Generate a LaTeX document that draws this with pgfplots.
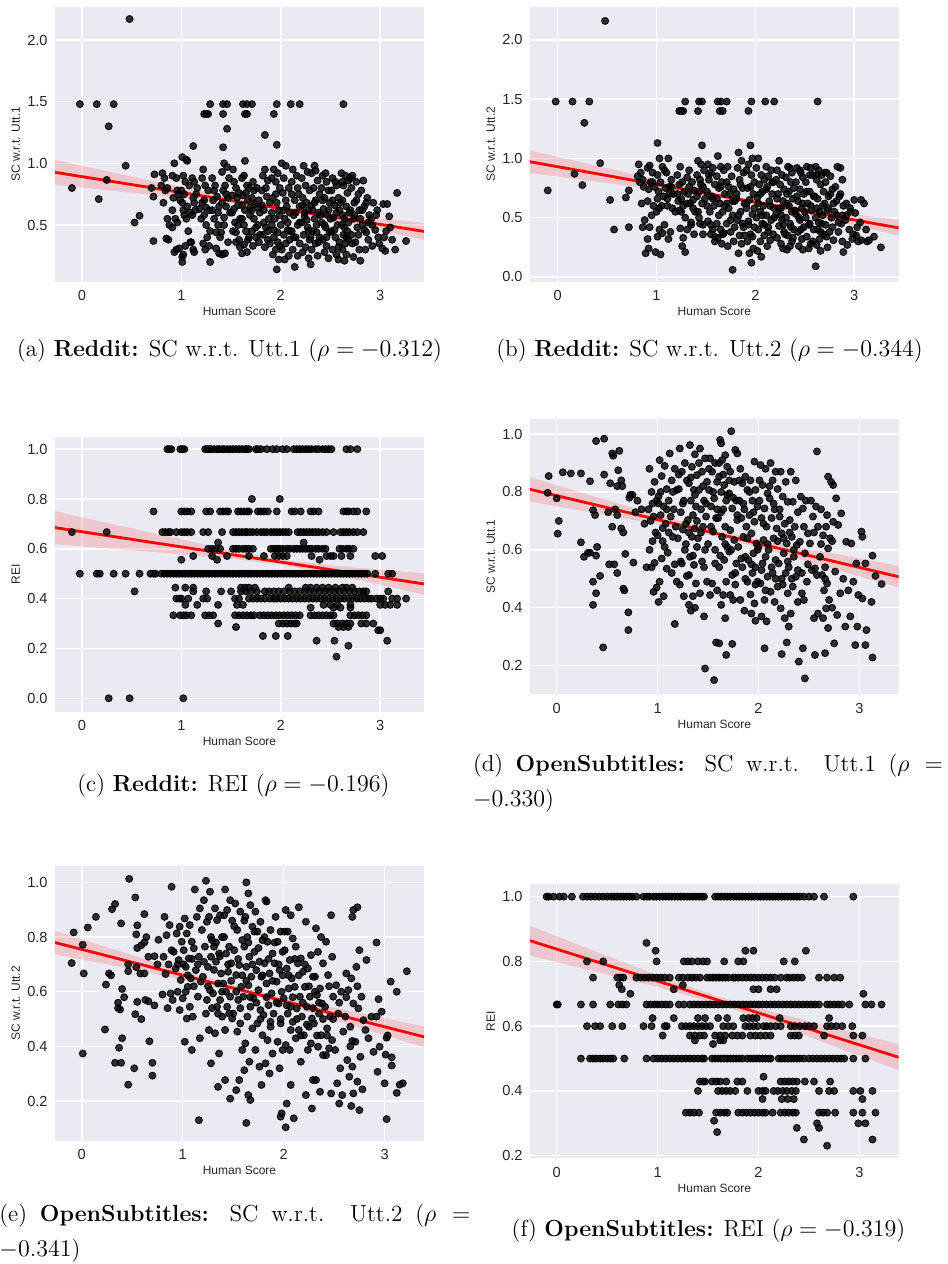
\documentclass[border=0pt]{standalone}
\usepackage{fontspec}
\usepackage{pgfplots}
\pgfplotsset{compat=1.18}
\newfontfamily\arial{Liberation Sans}
\definecolor{sbbg}{HTML}{EAEAF2}
\definecolor{sbtext}{HTML}{262626}
\newcommand\capfont{\fontsize{11.6}{14}\selectfont}
\pgfplotsset{
  % seaborn darkgrid look
  sb/.style={
    scale only axis, width=184.5pt, height=137.5pt, anchor=south west,
    axis background/.style={fill=sbbg},
    axis line style={draw=none},
    grid=major, grid style={white, line width=0.75pt},
    major tick length=0pt, tick style={draw=none},
    xtick={0,1,2,3},
    /pgf/number format/assume math mode=true,
    ticklabel style={font=\arial\fontsize{7.3}{8}\selectfont, text=sbtext, inner sep=0pt},
    xticklabel style={anchor=north, yshift=-4.3pt},
    yticklabel style={anchor=east, xshift=-3.5pt, /pgf/number format/fixed,
      /pgf/number format/precision=1, /pgf/number format/fixed zerofill},
    xlabel={Human Score},
    every axis x label/.style={at={(rel axis cs:0.5,0)}, anchor=center, yshift=-15pt,
      font=\arial\fontsize{6}{7}\selectfont, text=sbtext},
    every axis y label/.style={at={(rel axis cs:0,0.5)}, xshift=-19.6pt, rotate=90,
      anchor=center, font=\arial\fontsize{6}{7}\selectfont, text=sbtext},
  },
  dots/.style={only marks, mark=*, mark size=1.75pt,
    mark options={draw=none, fill=black, fill opacity=0.8}},
  band/.style={draw=none, fill=red, fill opacity=0.15},
  fitline/.style={red, line width=1.4pt, no marks},
}
\begin{document}
\begin{tikzpicture}
\useasboundingbox (0,0) rectangle (474pt,-632pt);

% ---- (a) Reddit, SC w.r.t. Utt.1 ----
\begin{axis}[sb, at={(27.5pt,-140.85pt)},
  xmin=-0.27, xmax=3.44, ymin=0.04, ymax=2.27, ytick={0.5,1.0,1.5,2.0},
  ylabel={SC w.r.t. Utt.1}]
\addplot[dots] coordinates {
(0.48,2.17) (-0.02,1.48) (0.15,1.48) (0.32,1.48) (1.29,1.48) (1.42,1.48) (1.46,1.48) (1.62,1.48) (1.66,1.48) (1.71,1.48) (1.96,1.48) (2.10,1.48) (2.19,1.48) (2.63,1.48)
(1.23,1.40) (1.25,1.40) (1.27,1.40) (1.42,1.40) (1.64,1.40) (1.66,1.40) (1.93,1.40)
(0.27,1.30) (1.46,1.28) (1.84,1.23) (1.12,1.14) (1.42,1.13) (1.96,1.15) (1.64,1.02)
(0.44,0.98) (-0.10,0.80) (0.25,0.865) (0.17,0.71) (0.53,0.52) (0.58,0.575) (0.72,0.37) (0.72,0.73) (0.73,0.91) (0.70,0.80)
(0.81,0.92) (0.83,0.88) (0.80,0.82) (0.86,0.80) (0.84,0.78) (0.82,0.68) (0.86,0.55) (0.88,0.50) (0.85,0.39) (0.87,0.38)
(0.93,1.00) (0.91,0.90) (0.95,0.88) (0.97,0.75) (0.92,0.72) (0.99,0.70) (0.94,0.55) (0.96,0.52) (0.91,0.48) (0.95,0.30) (0.93,0.28) (0.98,0.31)
(1.01,1.05) (1.05,1.03) (1.06,1.02) (1.02,0.90) (1.04,0.85) (1.08,0.82) (1.00,0.78) (1.03,0.75) (1.06,0.65) (1.02,0.62) (1.09,0.60) (1.05,0.55) (1.07,0.45) (1.04,0.33) (1.09,0.36) (1.02,0.26) (1.01,0.24) (1.01,0.20)
(1.11,0.88) (1.13,0.85) (1.16,0.80) (1.12,0.72) (1.18,0.63) (1.14,0.62) (1.10,0.36) (1.12,0.30) (1.13,0.28)
(1.22,0.95) (1.21,0.88) (1.24,0.82) (1.27,0.78) (1.23,0.70) (1.28,0.62) (1.20,0.55) (1.25,0.50) (1.29,0.45) (1.26,0.40) (1.22,0.35) (1.28,0.33) (1.24,0.30) (1.29,0.20)
(1.31,0.88) (1.34,0.82) (1.36,0.73) (1.32,0.70) (1.38,0.65) (1.33,0.55) (1.37,0.50) (1.39,0.40) (1.35,0.31) (1.38,0.27) (1.41,0.26)
(1.43,1.00) (1.46,0.97) (1.41,0.93) (1.48,0.88) (1.44,0.82) (1.42,0.78) (1.47,0.72) (1.45,0.65) (1.49,0.60) (1.43,0.56) (1.40,0.44) (1.44,0.27)
(1.52,0.95) (1.55,0.80) (1.58,0.76) (1.51,0.74) (1.56,0.72) (1.53,0.63) (1.59,0.55) (1.54,0.52) (1.57,0.50) (1.52,0.45) (1.58,0.38) (1.55,0.36)
(1.63,0.90) (1.61,0.88) (1.66,0.82) (1.68,0.80) (1.62,0.74) (1.67,0.70) (1.64,0.62) (1.69,0.58) (1.61,0.55) (1.65,0.45) (1.68,0.40) (1.63,0.34) (1.66,0.28) (1.61,0.27)
(1.72,0.85) (1.76,0.80) (1.71,0.72) (1.78,0.70) (1.74,0.67) (1.79,0.60) (1.73,0.55) (1.77,0.50) (1.71,0.45) (1.75,0.40) (1.78,0.36) (1.72,0.33)
(1.84,0.95) (1.82,0.90) (1.87,0.86) (1.81,0.78) (1.86,0.73) (1.89,0.68) (1.83,0.62) (1.88,0.55) (1.85,0.48) (1.82,0.42) (1.87,0.38) (1.84,0.32)
(1.93,0.95) (1.97,0.92) (1.91,0.88) (1.95,0.85) (1.99,0.80) (1.92,0.72) (1.96,0.68) (1.98,0.62) (1.94,0.55) (1.91,0.50) (1.97,0.44) (1.93,0.40) (1.99,0.33) (1.95,0.30) (1.92,0.26) (1.98,0.22) (1.96,0.14)
(2.01,1.00) (2.05,0.98) (2.03,0.88) (2.08,0.80) (2.02,0.76) (2.06,0.65) (2.09,0.60) (2.04,0.55) (2.00,0.50) (2.07,0.46) (2.03,0.42) (2.09,0.38) (2.05,0.35) (2.01,0.30) (2.08,0.25) (2.04,0.22)
(2.12,0.95) (2.16,0.90) (2.11,0.85) (2.18,0.75) (2.14,0.70) (2.19,0.65) (2.13,0.58) (2.17,0.50) (2.11,0.45) (2.15,0.40) (2.19,0.35) (2.12,0.30) (2.17,0.25) (2.14,0.16)
(2.23,0.98) (2.27,0.93) (2.21,0.88) (2.25,0.82) (2.29,0.78) (2.22,0.72) (2.26,0.68) (2.28,0.62) (2.24,0.57) (2.21,0.52) (2.27,0.48) (2.23,0.42) (2.29,0.38) (2.25,0.32) (2.22,0.28) (2.28,0.23)
(2.34,0.98) (2.31,0.92) (2.37,0.86) (2.33,0.80) (2.39,0.75) (2.35,0.70) (2.31,0.66) (2.38,0.60) (2.34,0.55) (2.36,0.50) (2.32,0.45) (2.39,0.40) (2.35,0.35) (2.31,0.30) (2.37,0.25) (2.30,0.18)
(2.42,0.90) (2.46,0.85) (2.41,0.80) (2.48,0.78) (2.44,0.72) (2.49,0.68) (2.43,0.63) (2.47,0.58) (2.41,0.52) (2.45,0.48) (2.49,0.44) (2.42,0.38) (2.46,0.33) (2.44,0.28) (2.48,0.23)
(2.52,0.88) (2.56,0.82) (2.51,0.78) (2.58,0.72) (2.54,0.66) (2.59,0.62) (2.53,0.56) (2.57,0.50) (2.51,0.45) (2.55,0.40) (2.59,0.36) (2.52,0.30) (2.56,0.26) (2.58,0.22)
(2.61,0.92) (2.65,0.90) (2.68,0.86) (2.63,0.82) (2.67,0.76) (2.62,0.70) (2.66,0.65) (2.69,0.60) (2.64,0.55) (2.61,0.50) (2.67,0.45) (2.63,0.42) (2.68,0.38) (2.65,0.35) (2.62,0.30) (2.66,0.26) (2.64,0.21)
(2.72,0.90) (2.76,0.85) (2.71,0.80) (2.78,0.75) (2.74,0.68) (2.79,0.62) (2.73,0.55) (2.77,0.48) (2.71,0.42) (2.75,0.36) (2.79,0.30) (2.73,0.24)
(2.83,0.86) (2.81,0.78) (2.87,0.72) (2.84,0.65) (2.89,0.58) (2.82,0.50) (2.86,0.44) (2.88,0.38) (2.85,0.30) (2.80,0.21)
(2.93,0.68) (2.97,0.62) (2.91,0.55) (2.95,0.46) (2.98,0.40) (2.92,0.33)
(3.03,0.67) (3.07,0.67) (3.09,0.57) (3.10,0.48) (3.04,0.40) (3.02,0.31) (3.05,0.29) (3.15,0.30) (3.17,0.76) (3.26,0.37)
(2.22,0.66) (2.24,0.60) (2.26,0.54) (2.28,0.45) (2.30,0.40) (2.32,0.62) (2.34,0.68) (2.36,0.44) (2.38,0.36) (2.40,0.58) (2.42,0.70) (2.44,0.50) (2.46,0.40) (2.48,0.62) (2.50,0.55) (2.52,0.70) (2.54,0.46) (2.56,0.60) (2.58,0.32) (2.60,0.68) (2.62,0.58) (2.64,0.48) (2.66,0.40) (2.68,0.52) (2.70,0.62) (2.72,0.35) (2.74,0.58) (2.76,0.70) (2.78,0.42) (2.80,0.55) (2.82,0.62) (2.84,0.46) (2.86,0.68) (2.88,0.52)
(2.03,0.62) (2.05,0.70) (2.07,0.52) (2.09,0.45) (2.11,0.75) (2.13,0.40) (2.15,0.60) (2.17,0.80) (2.19,0.52) (1.91,0.60) (1.93,0.46) (1.95,0.75) (1.97,0.36) (1.99,0.58) (1.81,0.66) (1.83,0.52) (1.85,0.80) (1.87,0.45) (1.89,0.35)
(1.71,0.62) (1.73,0.78) (1.75,0.48) (1.77,0.64) (1.79,0.42) (1.61,0.66) (1.63,0.50) (1.65,0.76) (1.67,0.38) (1.69,0.64) (1.51,0.60) (1.53,0.85) (1.55,0.44) (1.57,0.66) (1.59,0.32) (1.41,0.68) (1.43,0.50) (1.45,0.75) (1.47,0.36)
(1.31,0.62) (1.33,0.78) (1.35,0.44) (1.37,0.60) (1.21,0.68) (1.23,0.58) (1.25,0.64) (1.11,0.58) (1.13,0.68) (1.15,0.75) (1.01,0.68) (1.03,0.58) (0.91,0.62) (0.96,0.78)
(2.92,0.50) (2.96,0.58) (2.99,0.35) (3.06,0.45) (3.12,0.38) (2.62,0.85) (2.70,0.88) (2.45,0.92) (2.55,0.85) (2.35,0.94)
};
\addplot[band] coordinates {(-0.27,1.027) (0.3,0.928) (0.9,0.825) (1.5,0.723) (1.95,0.654) (2.5,0.598) (3.0,0.554) (3.44,0.516)
 (3.44,0.380) (3.0,0.456) (2.5,0.542) (1.95,0.626) (1.5,0.674) (0.9,0.727) (0.3,0.778) (-0.27,0.827)} -- cycle;
\addplot[fitline] coordinates {(-0.27,0.927) (3.44,0.448)};
\end{axis}

% ---- (b) Reddit, SC w.r.t. Utt.2 ----
\begin{axis}[sb, at={(265pt,-140.85pt)}, width=184.35pt,
  xmin=-0.28, xmax=3.45, ymin=-0.04, ymax=2.28, ytick={0,0.5,1.0,1.5,2.0},
  ylabel={SC w.r.t. Utt.2}]
\addplot[dots] coordinates {
(0.48,2.16) (-0.02,1.48) (0.15,1.48) (0.32,1.48) (1.29,1.48) (1.43,1.48) (1.46,1.48) (1.62,1.48) (1.65,1.48) (1.71,1.48) (1.96,1.48) (2.10,1.48) (2.19,1.48) (2.63,1.48)
(1.23,1.40) (1.25,1.40) (1.27,1.40) (1.42,1.40) (1.64,1.40) (1.67,1.40) (1.93,1.40)
(0.27,1.30) (0.43,0.96) (-0.10,0.73) (0.17,0.87) (0.25,0.775) (0.53,0.65) (0.57,0.40) (0.72,0.42) (0.69,0.67) (0.72,0.73) (1.01,1.13) (1.46,1.11) (1.95,1.11) (1.77,0.06) (2.61,0.09) (1.96,0.12) (3.27,0.25)
(0.82,0.95) (0.84,0.88) (0.81,0.85) (0.86,0.82) (0.83,0.80) (0.87,0.76) (0.85,0.62) (0.88,0.48) (0.86,0.42) (0.89,0.20)
(0.93,0.94) (0.91,0.92) (0.96,0.88) (0.94,0.80) (0.98,0.76) (0.92,0.74) (0.97,0.60) (0.95,0.52) (0.93,0.42) (0.91,0.32) (0.92,0.24) (0.99,0.21)
(1.03,1.00) (1.06,0.93) (1.08,0.90) (1.01,0.86) (1.04,0.80) (1.09,0.75) (1.02,0.72) (1.07,0.68) (1.05,0.60) (1.00,0.55) (1.08,0.44) (1.03,0.40) (1.06,0.37) (1.01,0.34) (1.04,0.19)
(1.12,1.00) (1.10,0.88) (1.15,0.82) (1.13,0.76) (1.17,0.70) (1.11,0.66) (1.16,0.58) (1.19,0.55) (1.14,0.38) (1.12,0.32)
(1.24,0.93) (1.21,0.86) (1.26,0.80) (1.23,0.78) (1.28,0.72) (1.22,0.64) (1.27,0.60) (1.25,0.55) (1.29,0.50) (1.24,0.41) (1.27,0.33) (1.26,0.26) (1.29,0.21)
(1.33,0.90) (1.31,0.84) (1.36,0.80) (1.38,0.73) (1.32,0.70) (1.37,0.65) (1.34,0.62) (1.39,0.55) (1.35,0.44) (1.31,0.40) (1.38,0.36)
(1.42,0.98) (1.45,0.95) (1.48,0.90) (1.41,0.86) (1.44,0.82) (1.47,0.76) (1.43,0.72) (1.49,0.66) (1.46,0.62) (1.42,0.55) (1.44,0.45) (1.47,0.44)
(1.52,0.95) (1.57,0.92) (1.55,0.88) (1.53,0.82) (1.59,0.78) (1.51,0.72) (1.56,0.68) (1.58,0.60) (1.54,0.55) (1.52,0.47) (1.57,0.40) (1.55,0.36) (1.59,0.30)
(1.62,1.02) (1.65,0.93) (1.68,0.90) (1.61,0.85) (1.66,0.80) (1.63,0.75) (1.69,0.70) (1.64,0.62) (1.67,0.55) (1.61,0.45) (1.65,0.40) (1.68,0.37) (1.62,0.33) (1.66,0.28)
(1.72,0.93) (1.76,0.85) (1.71,0.80) (1.78,0.74) (1.74,0.70) (1.79,0.64) (1.73,0.58) (1.77,0.52) (1.71,0.45) (1.75,0.38) (1.78,0.30) (1.72,0.26)
(1.83,1.05) (1.86,0.98) (1.82,0.92) (1.88,0.88) (1.84,0.82) (1.87,0.75) (1.81,0.70) (1.89,0.62) (1.85,0.55) (1.82,0.48) (1.88,0.42) (1.84,0.35) (1.86,0.28) (1.83,0.20)
(1.97,1.00) (1.93,0.95) (1.91,0.90) (1.96,0.86) (1.99,0.80) (1.92,0.75) (1.98,0.70) (1.94,0.65) (1.91,0.58) (1.97,0.53) (1.93,0.47) (1.99,0.42) (1.95,0.36) (1.92,0.30) (1.98,0.24) (1.94,0.20)
(2.03,1.00) (2.01,0.92) (2.06,0.86) (2.09,0.82) (2.04,0.78) (2.07,0.72) (2.02,0.67) (2.08,0.60) (2.05,0.55) (2.01,0.50) (2.07,0.45) (2.03,0.40) (2.09,0.35) (2.05,0.30) (2.02,0.22) (2.06,0.17)
(2.11,0.93) (2.16,0.90) (2.13,0.85) (2.18,0.80) (2.12,0.76) (2.17,0.70) (2.14,0.64) (2.19,0.58) (2.11,0.52) (2.16,0.48) (2.13,0.42) (2.18,0.36) (2.15,0.31) (2.12,0.26)
(2.24,0.98) (2.22,0.90) (2.27,0.86) (2.21,0.82) (2.25,0.78) (2.29,0.74) (2.23,0.70) (2.28,0.64) (2.26,0.58) (2.21,0.53) (2.27,0.48) (2.24,0.43) (2.29,0.38) (2.22,0.33) (2.26,0.28) (2.28,0.24)
(2.33,0.93) (2.37,0.88) (2.31,0.84) (2.36,0.80) (2.39,0.75) (2.32,0.70) (2.38,0.66) (2.34,0.60) (2.37,0.55) (2.31,0.50) (2.35,0.45) (2.39,0.40) (2.33,0.35) (2.37,0.30) (2.35,0.26) (2.32,0.23)
(2.42,0.92) (2.46,0.88) (2.48,0.84) (2.41,0.80) (2.45,0.74) (2.49,0.70) (2.43,0.64) (2.47,0.58) (2.41,0.53) (2.45,0.48) (2.49,0.42) (2.43,0.38) (2.47,0.32) (2.44,0.26) (2.48,0.23)
(2.52,0.93) (2.56,0.92) (2.58,0.86) (2.51,0.80) (2.55,0.72) (2.59,0.68) (2.53,0.62) (2.57,0.56) (2.51,0.50) (2.55,0.45) (2.59,0.40) (2.52,0.34) (2.56,0.28) (2.54,0.24)
(2.61,0.93) (2.64,0.90) (2.67,0.86) (2.62,0.82) (2.66,0.78) (2.69,0.72) (2.63,0.66) (2.68,0.60) (2.65,0.55) (2.61,0.50) (2.67,0.45) (2.63,0.40) (2.69,0.36) (2.65,0.32) (2.62,0.27) (2.66,0.22)
(2.72,0.88) (2.76,0.85) (2.71,0.80) (2.78,0.74) (2.74,0.68) (2.79,0.62) (2.73,0.56) (2.77,0.50) (2.71,0.44) (2.75,0.38) (2.79,0.31) (2.73,0.25)
(2.83,0.93) (2.86,0.92) (2.88,0.82) (2.81,0.76) (2.85,0.68) (2.89,0.60) (2.82,0.52) (2.87,0.45) (2.84,0.38) (2.88,0.30) (2.89,0.21)
(2.92,0.62) (2.96,0.55) (2.91,0.48) (2.95,0.40) (2.98,0.32) (2.93,0.27)
(3.00,0.65) (3.07,0.65) (3.10,0.62) (3.01,0.54) (3.03,0.42) (3.02,0.35) (3.07,0.31) (3.15,0.31) (3.20,0.34) (3.04,0.30) (3.13,0.30)
(2.22,0.66) (2.24,0.58) (2.26,0.52) (2.28,0.44) (2.30,0.36) (2.32,0.62) (2.34,0.72) (2.36,0.42) (2.38,0.33) (2.40,0.56) (2.42,0.68) (2.44,0.50) (2.46,0.40) (2.48,0.62) (2.50,0.55) (2.52,0.72) (2.54,0.44) (2.56,0.60) (2.58,0.30) (2.60,0.68) (2.62,0.58) (2.64,0.46) (2.66,0.38) (2.68,0.52) (2.70,0.62) (2.72,0.34) (2.74,0.58) (2.76,0.70) (2.78,0.42) (2.80,0.55) (2.82,0.64) (2.84,0.46) (2.86,0.70) (2.88,0.52)
(2.03,0.62) (2.05,0.70) (2.07,0.52) (2.09,0.44) (2.11,0.74) (2.13,0.38) (2.15,0.60) (2.17,0.80) (2.19,0.50) (1.91,0.62) (1.93,0.44) (1.95,0.76) (1.97,0.34) (1.99,0.58) (1.81,0.66) (1.83,0.52) (1.85,0.78) (1.87,0.45) (1.89,0.35)
(1.71,0.62) (1.73,0.76) (1.75,0.48) (1.77,0.64) (1.79,0.42) (1.61,0.66) (1.63,0.52) (1.65,0.76) (1.67,0.36) (1.69,0.60) (1.51,0.60) (1.53,0.86) (1.55,0.44) (1.57,0.66) (1.59,0.34) (1.41,0.68) (1.43,0.50) (1.45,0.78) (1.47,0.36)
(1.31,0.62) (1.33,0.76) (1.35,0.46) (1.37,0.58) (1.21,0.70) (1.23,0.56) (1.25,0.66) (1.11,0.60) (1.13,0.70) (1.15,0.76) (1.01,0.66) (1.03,0.58) (0.91,0.64) (0.96,0.80)
(2.92,0.52) (2.96,0.58) (2.99,0.36) (3.06,0.46) (3.12,0.40) (2.62,0.86) (2.70,0.88) (2.45,0.90) (2.55,0.86) (2.35,0.92)
};
\addplot[band] coordinates {(-0.28,1.067) (0.3,0.956) (0.9,0.842) (1.5,0.729) (1.95,0.651) (2.5,0.583) (3.0,0.528) (3.45,0.479)
 (3.45,0.349) (3.0,0.434) (2.5,0.529) (1.95,0.625) (1.5,0.683) (0.9,0.748) (0.3,0.814) (-0.28,0.877)} -- cycle;
\addplot[fitline] coordinates {(-0.28,0.972) (3.45,0.414)};
\end{axis}

% ---- (c) Reddit, REI ----
\begin{axis}[sb, at={(27.5pt,-355.85pt)},
  xmin=-0.27, xmax=3.44, ymin=-0.054, ymax=1.05, ytick={0,0.2,0.4,0.6,0.8,1.0},
  ylabel={REI}]
\addplot[dots] coordinates {
(0.86,1) (0.88,1) (0.90,1) (0.99,1) (1.01,1) (1.03,1) (1.24,1) (1.26,1) (1.28,1) (1.30,1) (1.33,1) (1.36,1) (1.38,1) (1.41,1) (1.43,1) (1.46,1) (1.49,1) (1.52,1) (1.55,1) (1.58,1) (1.61,1) (1.64,1) (1.66,1) (1.68,1) (1.75,1) (1.77,1) (1.80,1) (1.86,1) (1.92,1) (1.96,1) (2.02,1) (2.06,1) (2.13,1) (2.16,1) (2.19,1) (2.22,1) (2.25,1) (2.28,1) (2.31,1) (2.35,1) (2.38,1) (2.42,1) (2.45,1) (2.48,1) (2.51,1) (2.66,1) (2.70,1) (2.77,1)
(1.71,0.8) (1.99,0.8)
(0.72,0.75) (1.00,0.75) (1.03,0.75) (1.06,0.75) (1.10,0.75) (1.25,0.75) (1.29,0.75) (1.39,0.75) (1.42,0.75) (1.45,0.75) (1.47,0.75) (1.57,0.75) (1.60,0.75) (1.63,0.75) (1.66,0.75) (1.68,0.75) (1.77,0.75) (1.80,0.75) (1.83,0.75) (1.87,0.75) (1.96,0.75) (2.11,0.75) (2.14,0.75) (2.20,0.75) (2.30,0.75) (2.33,0.75) (2.38,0.75) (2.63,0.75) (2.66,0.75) (2.68,0.75) (2.73,0.75) (2.77,0.75) (2.86,0.75)
(-0.10,0.667) (0.25,0.667) (0.81,0.667) (0.84,0.667) (0.87,0.667) (0.89,0.667) (0.95,0.667) (1.00,0.667) (1.03,0.667) (1.06,0.667) (1.10,0.667) (1.22,0.667) (1.27,0.667) (1.41,0.667) (1.52,0.667) (1.55,0.667) (1.58,0.667) (1.61,0.667) (1.64,0.667) (1.66,0.667) (1.69,0.667) (1.72,0.667) (1.76,0.667) (1.80,0.667) (1.83,0.667) (1.86,0.667) (1.90,0.667) (1.93,0.667) (1.96,0.667) (1.99,0.667) (2.02,0.667) (2.05,0.667) (2.08,0.667) (2.17,0.667) (2.20,0.667) (2.23,0.667) (2.26,0.667) (2.29,0.667) (2.32,0.667) (2.35,0.667) (2.38,0.667) (2.42,0.667) (2.46,0.667) (2.53,0.667) (2.60,0.667) (2.63,0.667) (2.66,0.667) (2.69,0.667) (2.73,0.667) (2.77,0.667) (2.83,0.667)
(1.37,0.625) (2.23,0.625)
(1.27,0.6) (1.31,0.6) (1.35,0.6) (1.39,0.6) (1.52,0.6) (1.55,0.6) (1.58,0.6) (1.62,0.6) (1.65,0.6) (1.68,0.6) (1.72,0.6) (1.90,0.6) (1.93,0.6) (1.96,0.6) (1.99,0.6) (2.02,0.6) (2.06,0.6) (2.09,0.6) (2.13,0.6) (2.16,0.6) (2.19,0.6) (2.22,0.6) (2.25,0.6) (2.28,0.6) (2.31,0.6) (2.35,0.6) (2.38,0.6) (2.42,0.6) (2.45,0.6) (2.59,0.6) (2.62,0.6) (2.66,0.6) (2.69,0.6) (2.73,0.6)
(1.12,0.571) (1.31,0.571) (1.46,0.571) (1.68,0.571) (1.83,0.571) (1.94,0.571) (1.98,0.571) (2.02,0.571) (2.06,0.571) (2.31,0.571) (2.46,0.571) (2.50,0.571) (2.53,0.571) (2.61,0.571) (2.70,0.571) (2.95,0.571) (3.02,0.571)
(1.00,0.556) (1.36,0.556) (2.39,0.556)
(-0.02,0.5) (0.15,0.5) (0.18,0.5) (0.32,0.5) (0.44,0.5) (0.58,0.5) (0.69,0.5) (0.72,0.5) (0.74,0.5) (0.80,0.5) (0.83,0.5) (0.86,0.5) (0.89,0.5) (0.92,0.5) (0.95,0.5) (0.98,0.5) (1.01,0.5) (1.04,0.5) (1.07,0.5) (1.10,0.5) (1.13,0.5) (1.16,0.5) (1.19,0.5) (1.22,0.5) (1.25,0.5) (1.28,0.5) (1.31,0.5) (1.34,0.5) (1.37,0.5) (1.40,0.5) (1.43,0.5) (1.46,0.5) (1.49,0.5) (1.52,0.5) (1.55,0.5) (1.58,0.5) (1.61,0.5) (1.64,0.5) (1.67,0.5) (1.70,0.5) (1.73,0.5) (1.76,0.5) (1.79,0.5) (1.82,0.5) (1.85,0.5) (1.88,0.5) (1.91,0.5) (1.94,0.5) (1.97,0.5) (2.00,0.5) (2.03,0.5) (2.06,0.5) (2.09,0.5) (2.12,0.5) (2.15,0.5) (2.18,0.5) (2.21,0.5) (2.24,0.5) (2.27,0.5) (2.30,0.5) (2.33,0.5) (2.36,0.5) (2.39,0.5) (2.42,0.5) (2.45,0.5) (2.48,0.5) (2.51,0.5) (2.54,0.5) (2.57,0.5) (2.60,0.5) (2.63,0.5) (2.66,0.5) (2.69,0.5) (2.72,0.5) (2.75,0.5) (2.78,0.5) (2.81,0.5) (2.84,0.5) (2.87,0.5) (2.95,0.5) (3.08,0.5) (3.12,0.5)
(0.94,0.444) (1.04,0.444) (1.12,0.444) (1.60,0.444) (1.64,0.444) (1.68,0.444) (1.74,0.444) (2.08,0.444) (2.25,0.444) (2.30,0.444) (2.36,0.444) (2.42,0.444) (2.48,0.444) (2.55,0.444) (2.62,0.444) (2.66,0.444) (2.72,0.444)
(0.53,0.429) (1.12,0.429) (1.25,0.429) (1.40,0.429) (1.50,0.429) (1.60,0.429) (1.65,0.429) (1.70,0.429) (1.76,0.429) (1.84,0.429) (1.88,0.429) (1.93,0.429) (1.98,0.429) (2.03,0.429) (2.09,0.429) (2.14,0.429) (2.19,0.429) (2.24,0.429) (2.29,0.429) (2.34,0.429) (2.39,0.429) (2.44,0.429) (2.49,0.429) (2.54,0.429) (2.59,0.429) (2.64,0.429) (2.69,0.429) (2.74,0.429) (2.79,0.429) (2.83,0.429) (2.86,0.429) (3.08,0.429)
(0.95,0.4) (0.98,0.4) (1.00,0.4) (1.07,0.4) (1.22,0.4) (1.26,0.4) (1.54,0.4) (1.58,0.4) (1.68,0.4) (1.72,0.4) (1.76,0.4) (1.80,0.4) (1.84,0.4) (1.89,0.4) (1.93,0.4) (1.96,0.4) (2.00,0.4) (2.04,0.4) (2.08,0.4) (2.12,0.4) (2.16,0.4) (2.20,0.4) (2.24,0.4) (2.28,0.4) (2.32,0.4) (2.36,0.4) (2.40,0.4) (2.44,0.4) (2.48,0.4) (2.52,0.4) (2.56,0.4) (2.60,0.4) (2.64,0.4) (2.68,0.4) (2.72,0.4) (2.76,0.4) (2.80,0.4) (2.84,0.4) (2.88,0.4) (2.91,0.4) (2.96,0.4) (3.00,0.4) (3.03,0.4) (3.12,0.4) (3.17,0.4) (3.26,0.4)
(1.04,0.375) (1.16,0.375) (1.37,0.375) (1.56,0.375) (1.62,0.375) (2.43,0.375) (2.50,0.375) (2.57,0.375) (2.70,0.375) (3.00,0.375) (3.05,0.375) (3.10,0.375) (3.17,0.375)
(2.30,0.364) (2.53,0.364) (2.60,0.364) (2.70,0.364)
(0.92,0.333) (0.99,0.333) (1.02,0.333) (1.05,0.333) (1.10,0.333) (1.24,0.333) (1.28,0.333) (1.32,0.333) (1.54,0.333) (1.58,0.333) (1.62,0.333) (1.66,0.333) (1.70,0.333) (1.73,0.333) (1.79,0.333) (1.83,0.333) (1.87,0.333) (1.91,0.333) (1.95,0.333) (1.99,0.333) (2.03,0.333) (2.07,0.333) (2.11,0.333) (2.15,0.333) (2.19,0.333) (2.30,0.333) (2.34,0.333) (2.38,0.333) (2.42,0.333) (2.46,0.333) (2.50,0.333) (2.53,0.333) (2.70,0.333) (2.74,0.333) (2.78,0.333) (2.82,0.333) (2.86,0.333)
(1.37,0.3) (1.98,0.3) (2.02,0.3) (2.06,0.3) (2.10,0.3) (2.14,0.3) (2.16,0.3) (2.53,0.3) (2.57,0.3) (2.62,0.3) (2.66,0.3) (2.70,0.3) (2.81,0.3) (2.86,0.3) (2.93,0.3)
(1.55,0.286) (2.58,0.286) (2.63,0.286) (2.68,0.286) (2.98,0.273) (3.00,0.273)
(1.82,0.25) (1.95,0.25) (2.07,0.25) (2.36,0.231) (2.54,0.231) (3.07,0.231) (2.68,0.211) (2.56,0.167)
(0.27,0) (0.48,0) (1.02,0)
};
\addplot[band] coordinates {(-0.27,0.751) (0.3,0.700) (0.9,0.647) (1.5,0.595) (2.0,0.557) (2.5,0.534) (3.0,0.516) (3.44,0.502)
 (3.44,0.416) (3.0,0.456) (2.5,0.499) (2.0,0.537) (1.5,0.560) (0.9,0.581) (0.3,0.600) (-0.27,0.619)} -- cycle;
\addplot[fitline] coordinates {(-0.27,0.685) (3.44,0.459)};
\end{axis}

% ---- (d) OpenSubtitles, SC w.r.t. Utt.1 ----
\begin{axis}[sb, at={(265pt,-347pt)}, width=184.35pt, height=137.35pt,
  xmin=-0.265, xmax=3.39, ymin=0.102, ymax=1.051, ytick={0.2,0.4,0.6,0.8,1.0},
  ylabel={SC w.r.t. Utt.1}]
\addplot[dots] coordinates {
(-0.09,0.797) (-0.08,0.855) (0.00,0.778) (0.02,0.70) (0.01,0.656) (0.06,0.868) (0.14,0.864) (0.24,0.864) (0.33,0.837) (0.24,0.626) (0.27,0.576) (0.31,0.59) (0.33,0.59) (0.36,0.737) (0.38,0.72) (0.39,0.58) (0.40,0.61) (0.36,0.49) (0.39,0.45) (0.36,0.41) (0.43,0.51) (0.46,0.263) (0.39,0.976) (0.47,0.984) (0.47,0.86) (0.55,0.933) (0.56,0.925) (0.62,0.942) (0.61,0.875) (0.64,0.84) (0.53,0.83) (0.60,0.82) (0.65,0.82) (0.58,0.74) (0.51,0.73) (0.60,0.72) (0.55,0.68) (0.64,0.674) (0.66,0.66) (0.68,0.586) (0.52,0.55) (0.57,0.55) (0.60,0.52) (0.66,0.466) (0.67,0.46) (0.71,0.384) (0.71,0.323) (0.76,0.556) (0.73,0.79) (0.72,0.78)
(0.75,0.79) (0.80,0.77) (0.84,0.74) (0.78,0.73) (0.87,0.69) (0.89,0.54)
(0.92,0.88) (0.97,0.835) (0.94,0.80) (0.99,0.77) (0.91,0.74) (0.96,0.715) (0.93,0.70) (0.98,0.66) (0.95,0.63) (0.92,0.60) (0.97,0.555) (0.94,0.54) (0.99,0.47) (0.96,0.455)
(1.02,0.91) (1.07,0.89) (1.04,0.855) (1.09,0.81) (1.01,0.785) (1.06,0.75) (1.03,0.72) (1.08,0.69) (1.05,0.675) (1.00,0.65) (1.07,0.61) (1.04,0.57) (1.09,0.535) (1.02,0.49) (1.06,0.44) (1.01,0.42)
(1.12,0.933) (1.17,0.88) (1.14,0.84) (1.19,0.807) (1.11,0.77) (1.16,0.74) (1.13,0.715) (1.18,0.68) (1.15,0.645) (1.10,0.59) (1.17,0.55) (1.14,0.52) (1.19,0.49) (1.17,0.344)
(1.22,0.95) (1.27,0.90) (1.24,0.87) (1.29,0.84) (1.21,0.81) (1.26,0.77) (1.23,0.73) (1.28,0.69) (1.25,0.67) (1.20,0.64) (1.27,0.60) (1.24,0.553) (1.29,0.51) (1.22,0.48) (1.26,0.44) (1.31,0.41) (1.33,0.39)
(1.32,0.962) (1.37,0.93) (1.34,0.887) (1.39,0.858) (1.31,0.83) (1.36,0.807) (1.33,0.77) (1.38,0.75) (1.35,0.72) (1.30,0.703) (1.37,0.674) (1.34,0.645) (1.39,0.61) (1.32,0.576) (1.36,0.548) (1.31,0.513) (1.38,0.484) (1.35,0.44) (1.37,0.40)
(1.42,0.95) (1.47,0.916) (1.44,0.87) (1.49,0.835) (1.41,0.807) (1.46,0.77) (1.43,0.74) (1.48,0.715) (1.45,0.68) (1.40,0.64) (1.47,0.60) (1.44,0.56) (1.49,0.49) (1.42,0.45) (1.46,0.37) (1.47,0.19)
(1.52,0.916) (1.57,0.90) (1.54,0.87) (1.59,0.835) (1.51,0.807) (1.56,0.778) (1.53,0.75) (1.58,0.71) (1.55,0.663) (1.50,0.62) (1.57,0.553) (1.54,0.484) (1.59,0.46) (1.52,0.444) (1.56,0.15) (1.58,0.28)
(1.62,0.98) (1.63,0.968) (1.67,0.927) (1.64,0.91) (1.69,0.887) (1.61,0.853) (1.66,0.824) (1.63,0.80) (1.68,0.77) (1.65,0.74) (1.60,0.71) (1.67,0.68) (1.64,0.645) (1.69,0.61) (1.62,0.58) (1.66,0.565) (1.61,0.54) (1.68,0.49) (1.65,0.444) (1.63,0.41) (1.67,0.364) (1.61,0.277) (1.68,0.237)
(1.73,1.01) (1.77,0.945) (1.79,0.933) (1.72,0.87) (1.76,0.835) (1.71,0.795) (1.78,0.77) (1.74,0.743) (1.79,0.703) (1.72,0.668) (1.76,0.634) (1.71,0.594) (1.78,0.553) (1.74,0.513) (1.77,0.48) (1.72,0.444) (1.75,0.427) (1.74,0.275)
(1.82,0.88) (1.87,0.853) (1.84,0.83) (1.89,0.807) (1.81,0.77) (1.86,0.74) (1.83,0.71) (1.88,0.68) (1.85,0.645) (1.80,0.61) (1.87,0.576) (1.84,0.54) (1.89,0.49) (1.82,0.427) (1.86,0.39)
(1.96,0.905) (1.92,0.84) (1.97,0.807) (1.94,0.77) (1.99,0.75) (1.91,0.72) (1.96,0.697) (1.93,0.657) (1.98,0.622) (1.95,0.588) (1.90,0.565) (1.97,0.54) (1.94,0.52) (1.99,0.49) (1.92,0.446) (1.96,0.415) (1.93,0.38) (1.97,0.355)
(2.02,0.893) (2.07,0.88) (2.04,0.824) (2.09,0.795) (2.01,0.77) (2.06,0.743) (2.03,0.71) (2.08,0.68) (2.05,0.634) (2.00,0.61) (2.07,0.576) (2.04,0.553) (2.09,0.507) (2.02,0.484) (2.06,0.427) (2.03,0.37) (2.08,0.353) (2.06,0.26)
(2.12,0.90) (2.17,0.87) (2.14,0.84) (2.19,0.81) (2.11,0.778) (2.16,0.74) (2.13,0.71) (2.18,0.674) (2.15,0.64) (2.10,0.60) (2.17,0.565) (2.14,0.52) (2.19,0.473) (2.12,0.455) (2.16,0.42)
(2.22,0.87) (2.27,0.835) (2.24,0.784) (2.29,0.766) (2.21,0.715) (2.26,0.69) (2.23,0.657) (2.28,0.622) (2.25,0.588) (2.20,0.553) (2.27,0.52) (2.24,0.48) (2.29,0.45) (2.22,0.398) (2.26,0.364) (2.30,0.335) (2.28,0.28) (2.23,0.24)
(2.32,0.87) (2.37,0.84) (2.34,0.766) (2.39,0.73) (2.31,0.703) (2.36,0.68) (2.33,0.645) (2.38,0.617) (2.35,0.576) (2.30,0.54) (2.37,0.507) (2.34,0.473) (2.39,0.42) (2.32,0.38) (2.40,0.214)
(2.42,0.784) (2.47,0.77) (2.44,0.743) (2.49,0.657) (2.41,0.628) (2.46,0.588) (2.43,0.52) (2.48,0.49) (2.45,0.427) (2.44,0.26) (2.46,0.156)
(2.58,0.94) (2.52,0.77) (2.57,0.75) (2.54,0.715) (2.59,0.68) (2.51,0.622) (2.56,0.536) (2.53,0.53) (2.58,0.513) (2.55,0.364) (2.59,0.38) (2.56,0.237)
(2.69,0.853) (2.74,0.824) (2.62,0.74) (2.67,0.68) (2.64,0.65) (2.69,0.605) (2.61,0.576) (2.66,0.54) (2.63,0.513) (2.68,0.484) (2.65,0.46) (2.70,0.427) (2.67,0.398) (2.64,0.364) (2.69,0.33) (2.66,0.243)
(2.72,0.835) (2.77,0.778) (2.74,0.697) (2.79,0.686) (2.71,0.64) (2.76,0.525) (2.73,0.40) (2.78,0.375) (2.75,0.277)
(2.82,0.726) (2.87,0.628) (2.84,0.50) (2.89,0.46) (2.81,0.45) (2.86,0.335)
(2.92,0.622) (2.97,0.553) (2.94,0.49) (2.99,0.444) (2.91,0.37) (2.96,0.271) (2.98,0.335)
(3.02,0.663) (3.03,0.645) (3.06,0.553) (3.03,0.432) (3.07,0.323) (3.06,0.271)
(3.13,0.58) (3.22,0.482) (3.16,0.51) (3.12,0.42) (3.13,0.228)
(1.21,0.86) (1.25,0.76) (1.28,0.62) (1.23,0.56) (1.33,0.85) (1.37,0.79) (1.31,0.66) (1.39,0.70) (1.35,0.58) (1.41,0.90) (1.45,0.82) (1.48,0.76) (1.43,0.66) (1.46,0.54) (1.51,0.88) (1.55,0.80) (1.59,0.74) (1.53,0.68) (1.57,0.60)
(1.61,0.90) (1.65,0.86) (1.69,0.79) (1.63,0.73) (1.67,0.62) (1.71,0.84) (1.75,0.78) (1.79,0.72) (1.73,0.60) (1.77,0.52) (1.81,0.84) (1.85,0.76) (1.89,0.64) (1.83,0.57) (1.87,0.50) (1.91,0.80) (1.95,0.73) (1.99,0.60) (1.93,0.55) (1.97,0.48)
(2.01,0.84) (2.05,0.69) (2.09,0.62) (2.03,0.53) (2.07,0.46) (2.11,0.82) (2.15,0.76) (2.19,0.63) (2.13,0.54) (2.17,0.50) (2.21,0.74) (2.25,0.64) (2.29,0.56) (2.23,0.50) (2.31,0.66) (2.35,0.60) (2.39,0.53) (2.33,0.50)
(1.01,0.76) (1.05,0.63) (1.09,0.74) (1.11,0.66) (1.15,0.80) (0.95,0.76) (1.03,0.80) (2.45,0.68) (2.49,0.55) (2.43,0.45) (2.55,0.66) (2.62,0.62) (2.68,0.72) (2.73,0.63) (2.66,0.50)
};
\addplot[band] coordinates {(-0.265,0.851) (0.3,0.792) (0.9,0.731) (1.6,0.665) (2.2,0.622) (2.8,0.584) (3.39,0.544)
 (3.39,0.470) (2.8,0.528) (2.2,0.589) (1.6,0.645) (0.9,0.694) (0.3,0.732) (-0.265,0.767)} -- cycle;
\addplot[fitline] coordinates {(-0.265,0.809) (3.39,0.507)};
\end{axis}

% ---- (e) OpenSubtitles, SC w.r.t. Utt.2 ----
\begin{axis}[sb, at={(27.5pt,-570.35pt)}, height=137.35pt,
  xmin=-0.265, xmax=3.39, ymin=0.055, ymax=1.06, ytick={0.2,0.4,0.6,0.8,1.0},
  ylabel={SC w.r.t. Utt.2}]
\addplot[dots] coordinates {
(-0.08,0.817) (-0.10,0.705) (0.01,0.772) (0.02,0.667) (0.01,0.374) (0.06,0.835) (0.14,0.874) (0.24,0.626) (0.23,0.462) (0.27,0.667) (0.29,0.66) (0.30,0.902) (0.33,0.921) (0.39,0.85) (0.33,0.34) (0.39,0.34) (0.37,0.395) (0.40,0.43) (0.36,0.54) (0.36,0.56) (0.38,0.535) (0.40,0.61) (0.42,0.58) (0.46,0.26) (0.52,0.32) (0.47,1.013) (0.53,0.945) (0.46,0.70) (0.46,0.675) (0.53,0.518) (0.55,0.843) (0.54,0.81) (0.55,0.76) (0.59,0.77) (0.62,0.78) (0.62,0.884) (0.64,0.80) (0.54,0.69) (0.58,0.667) (0.62,0.667) (0.66,0.728) (0.55,0.563) (0.59,0.50) (0.63,0.57) (0.66,0.565) (0.72,0.55) (0.67,0.419) (0.70,0.34) (0.70,0.293) (0.72,0.73) (0.76,0.79) (0.80,0.59) (0.75,0.70)
(0.82,0.874) (0.87,0.844) (0.84,0.807) (0.89,0.752) (0.81,0.728) (0.86,0.70) (0.83,0.665) (0.88,0.594) (0.85,0.54)
(0.89,0.984) (0.97,0.838) (0.94,0.813) (0.99,0.783) (0.91,0.746) (0.96,0.716) (0.93,0.685) (0.98,0.643) (0.95,0.60) (0.90,0.57) (0.97,0.533)
(1.02,0.868) (1.07,0.844) (1.04,0.813) (1.09,0.783) (1.01,0.752) (1.06,0.722) (1.03,0.691) (1.08,0.649) (1.05,0.618) (1.00,0.576) (1.07,0.545) (1.04,0.502) (1.02,0.417) (1.09,0.387)
(1.12,0.974) (1.17,0.905) (1.14,0.874) (1.19,0.826) (1.11,0.759) (1.16,0.728) (1.13,0.679) (1.18,0.637) (1.15,0.582) (1.10,0.509) (1.17,0.43) (1.16,0.13)
(1.23,1.006) (1.27,0.966) (1.21,0.935) (1.26,0.874) (1.24,0.856) (1.29,0.789) (1.22,0.765) (1.28,0.728) (1.25,0.691) (1.20,0.655) (1.27,0.606) (1.24,0.57) (1.29,0.54) (1.26,0.46) (1.28,0.338)
(1.32,0.905) (1.37,0.88) (1.34,0.862) (1.39,0.80) (1.31,0.765) (1.36,0.74) (1.33,0.71) (1.38,0.667) (1.35,0.63) (1.30,0.594) (1.37,0.57) (1.34,0.545) (1.39,0.509) (1.32,0.448) (1.36,0.374) (1.35,0.252)
(1.42,0.974) (1.47,0.935) (1.44,0.899) (1.49,0.86) (1.41,0.80) (1.46,0.765) (1.43,0.74) (1.48,0.704) (1.45,0.673) (1.40,0.63) (1.47,0.582) (1.44,0.545) (1.49,0.502) (1.42,0.46) (1.42,0.277) (1.47,0.209)
(1.52,0.923) (1.57,0.893) (1.54,0.826) (1.59,0.789) (1.51,0.752) (1.56,0.698) (1.53,0.661) (1.58,0.618) (1.55,0.57) (1.50,0.52) (1.57,0.484) (1.54,0.454) (1.59,0.387) (1.56,0.277) (1.53,0.24)
(1.63,1.0) (1.65,0.96) (1.67,0.917) (1.62,0.874) (1.69,0.838) (1.64,0.80) (1.61,0.765) (1.66,0.728) (1.63,0.691) (1.68,0.655) (1.65,0.624) (1.60,0.582) (1.67,0.545) (1.64,0.509) (1.69,0.466) (1.62,0.411) (1.66,0.344) (1.61,0.313) (1.65,0.222) (1.67,0.204) (1.63,0.12)
(1.72,0.893) (1.77,0.856) (1.74,0.82) (1.79,0.789) (1.71,0.746) (1.76,0.71) (1.73,0.679) (1.78,0.655) (1.75,0.606) (1.70,0.576) (1.77,0.533) (1.74,0.484) (1.79,0.441) (1.72,0.387) (1.76,0.326) (1.78,0.259)
(1.82,0.935) (1.83,0.93) (1.87,0.826) (1.84,0.783) (1.89,0.74) (1.81,0.704) (1.86,0.667) (1.83,0.63) (1.88,0.594) (1.85,0.551) (1.80,0.515) (1.87,0.472) (1.84,0.423) (1.89,0.374) (1.82,0.338) (1.86,0.301)
(1.92,0.874) (1.97,0.82) (1.94,0.783) (1.99,0.746) (1.91,0.704) (1.96,0.679) (1.93,0.637) (1.98,0.60) (1.95,0.557) (1.90,0.52) (1.97,0.484) (1.94,0.417) (1.99,0.387) (1.96,0.32) (1.97,0.143) (1.98,0.155)
(2.02,0.899) (2.07,0.88) (2.04,0.82) (2.09,0.795) (2.01,0.752) (2.06,0.716) (2.03,0.685) (2.08,0.649) (2.05,0.612) (2.00,0.576) (2.07,0.545) (2.04,0.52) (2.09,0.49) (2.02,0.405) (2.06,0.387) (2.07,0.259) (2.03,0.191) (2.02,0.104) (2.10,0.137)
(2.15,0.909) (2.12,0.765) (2.17,0.722) (2.14,0.704) (2.19,0.673) (2.11,0.618) (2.16,0.582) (2.13,0.539) (2.18,0.509) (2.15,0.46) (2.12,0.43) (2.17,0.344)
(2.22,0.856) (2.27,0.734) (2.24,0.685) (2.29,0.655) (2.21,0.618) (2.26,0.582) (2.23,0.545) (2.28,0.502) (2.25,0.472) (2.20,0.441) (2.27,0.411) (2.24,0.387) (2.29,0.277) (2.22,0.222) (2.28,0.173)
(2.32,0.832) (2.37,0.80) (2.34,0.746) (2.39,0.704) (2.31,0.655) (2.36,0.612) (2.33,0.588) (2.38,0.557) (2.35,0.52) (2.30,0.484) (2.37,0.441) (2.34,0.399) (2.39,0.368) (2.32,0.277) (2.36,0.234)
(2.47,0.88) (2.42,0.783) (2.48,0.728) (2.44,0.661) (2.49,0.582) (2.41,0.545) (2.46,0.509) (2.43,0.466) (2.48,0.423) (2.45,0.393) (2.42,0.368) (2.47,0.228)
(2.52,0.624) (2.57,0.60) (2.54,0.52) (2.59,0.454) (2.51,0.387) (2.56,0.32) (2.53,0.265) (2.58,0.222) (2.55,0.191)
(2.62,0.667) (2.67,0.649) (2.64,0.606) (2.69,0.557) (2.61,0.509) (2.66,0.472) (2.63,0.35) (2.68,0.326) (2.65,0.289) (2.69,0.228) (2.67,0.182) (2.68,0.874) (2.69,0.899)
(2.73,0.909) (2.75,0.752) (2.72,0.691) (2.77,0.582) (2.74,0.539) (2.79,0.496) (2.71,0.417) (2.76,0.362) (2.73,0.271) (2.78,0.243) (2.75,0.167)
(2.82,0.716) (2.87,0.509) (2.84,0.43) (2.89,0.38) (2.81,0.46)
(2.92,0.78) (2.94,0.573) (2.97,0.527) (2.92,0.509) (2.95,0.399) (2.93,0.307)
(3.22,0.675) (3.06,0.637) (3.12,0.60) (3.02,0.432) (3.03,0.44) (3.01,0.37) (3.07,0.36) (3.07,0.33) (3.15,0.26) (3.18,0.265) (3.12,0.23) (3.00,0.265) (3.02,0.134)
(1.21,0.71) (1.25,0.62) (1.28,0.80) (1.23,0.52) (1.33,0.78) (1.37,0.73) (1.31,0.68) (1.39,0.60) (1.35,0.52) (1.41,0.88) (1.45,0.70) (1.48,0.64) (1.43,0.60) (1.46,0.52) (1.51,0.84) (1.55,0.72) (1.59,0.66) (1.53,0.60) (1.57,0.54)
(1.61,0.86) (1.65,0.78) (1.69,0.70) (1.63,0.64) (1.67,0.58) (1.71,0.82) (1.75,0.76) (1.79,0.66) (1.73,0.56) (1.77,0.50) (1.81,0.80) (1.85,0.72) (1.89,0.64) (1.83,0.58) (1.87,0.49) (1.91,0.78) (1.95,0.70) (1.99,0.66) (1.93,0.56) (1.97,0.50)
(2.01,0.82) (2.05,0.66) (2.09,0.58) (2.03,0.55) (2.07,0.46) (2.11,0.72) (2.15,0.66) (2.19,0.56) (2.13,0.50) (2.17,0.44) (2.21,0.70) (2.25,0.62) (2.29,0.54) (2.23,0.48) (2.31,0.60) (2.35,0.56) (2.39,0.50) (2.33,0.44)
(1.01,0.70) (1.05,0.66) (1.09,0.72) (1.11,0.62) (1.15,0.70) (0.95,0.70) (1.03,0.60) (2.45,0.62) (2.49,0.50) (2.43,0.44) (2.55,0.56) (2.62,0.58) (2.68,0.42) (2.73,0.62) (2.66,0.40)
};
\addplot[band] coordinates {(-0.265,0.823) (0.3,0.757) (0.9,0.688) (1.6,0.614) (2.2,0.564) (2.8,0.519) (3.39,0.473)
 (3.39,0.397) (2.8,0.463) (2.2,0.531) (1.6,0.594) (0.9,0.652) (0.3,0.697) (-0.265,0.737)} -- cycle;
\addplot[fitline] coordinates {(-0.265,0.780) (3.39,0.435)};
\end{axis}

% ---- (f) OpenSubtitles, REI ----
\begin{axis}[sb, at={(265pt,-579.15pt)}, width=184.35pt, height=137.15pt,
  xmin=-0.265, xmax=3.39, ymin=0.192, ymax=1.039, ytick={0.2,0.4,0.6,0.8,1.0},
  ylabel={REI}]
\addplot[dots] coordinates {
(-0.10,1) (-0.08,1) (-0.03,1) (0.03,1) (0.07,1) (0.15,1) (0.26,1) (0.30,1) (0.34,1) (0.38,1) (0.42,1) (0.46,1) (0.50,1) (0.54,1) (0.57,1) (0.60,1) (0.63,1) (0.66,1) (0.69,1) (0.72,1) (0.75,1) (0.79,1) (0.86,1) (0.89,1) (0.92,1) (0.96,1) (0.99,1) (1.02,1) (1.05,1) (1.08,1) (1.11,1) (1.14,1) (1.17,1) (1.20,1) (1.23,1) (1.26,1) (1.29,1) (1.32,1) (1.35,1) (1.38,1) (1.41,1) (1.44,1) (1.46,1) (1.57,1) (1.60,1) (1.63,1) (1.66,1) (1.69,1) (1.72,1) (1.75,1) (1.78,1) (1.81,1) (1.84,1) (1.87,1) (1.90,1) (1.93,1) (1.96,1) (1.99,1) (2.02,1) (2.05,1) (2.08,1) (2.11,1) (2.14,1) (2.17,1) (2.20,1) (2.23,1) (2.26,1) (2.29,1) (2.32,1) (2.35,1) (2.38,1) (2.41,1) (2.45,1) (2.50,1) (2.55,1) (2.65,1) (2.94,1)
(0.89,0.857) (0.98,0.833) (1.87,0.833) (1.95,0.833) (2.47,0.833)
(0.30,0.8) (0.46,0.8) (0.99,0.8) (1.26,0.8) (1.30,0.8) (1.34,0.8) (1.40,0.8) (1.45,0.8) (1.49,0.8) (1.66,0.8) (1.80,0.8) (1.85,0.8) (2.25,0.8) (2.36,0.8)
(0.36,0.75) (0.60,0.75) (0.63,0.75) (0.66,0.75) (0.79,0.75) (0.83,0.75) (0.87,0.75) (0.91,0.75) (0.95,0.75) (0.99,0.75) (1.03,0.75) (1.07,0.75) (1.12,0.75) (1.21,0.75) (1.25,0.75) (1.30,0.75) (1.34,0.75) (1.38,0.75) (1.42,0.75) (1.49,0.75) (1.52,0.75) (1.55,0.75) (1.58,0.75) (1.61,0.75) (1.64,0.75) (1.67,0.75) (1.70,0.75) (1.75,0.75) (1.77,0.75) (1.80,0.75) (1.84,0.75) (1.88,0.75) (1.92,0.75) (1.96,0.75) (2.00,0.75) (2.04,0.75) (2.08,0.75) (2.12,0.75) (2.16,0.75) (2.22,0.75) (2.28,0.75) (2.31,0.75) (2.35,0.75) (2.39,0.75) (2.43,0.75) (2.60,0.75) (2.68,0.75) (2.75,0.75) (2.81,0.75)
(0.62,0.727) (1.25,0.727) (0.645,0.714) (1.16,0.714) (1.95,0.714) (2.00,0.714) (2.12,0.714) (2.18,0.714) (0.73,0.7) (3.04,0.7)
(0.00,0.667) (0.01,0.667) (0.24,0.667) (0.36,0.667) (0.53,0.667) (0.61,0.667) (0.65,0.667) (0.69,0.667) (0.89,0.667) (0.93,0.667) (0.97,0.667) (1.00,0.667) (1.04,0.667) (1.08,0.667) (1.12,0.667) (1.21,0.667) (1.26,0.667) (1.32,0.667) (1.36,0.667) (1.40,0.667) (1.44,0.667) (1.48,0.667) (1.52,0.667) (1.56,0.667) (1.60,0.667) (1.64,0.667) (1.68,0.667) (1.72,0.667) (1.76,0.667) (1.80,0.667) (1.84,0.667) (1.88,0.667) (1.92,0.667) (1.96,0.667) (2.00,0.667) (2.04,0.667) (2.08,0.667) (2.12,0.667) (2.16,0.667) (2.20,0.667) (2.24,0.667) (2.28,0.667) (2.32,0.667) (2.36,0.667) (2.40,0.667) (2.44,0.667) (2.48,0.667) (2.52,0.667) (2.56,0.667) (2.60,0.667) (2.68,0.667) (2.71,0.667) (2.75,0.667) (2.79,0.667) (2.83,0.667) (2.90,0.667) (3.06,0.667) (3.12,0.667) (3.22,0.667)
(0.95,0.625) (1.16,0.625) (1.40,0.625) (1.47,0.625) (1.60,0.625) (1.69,0.625) (1.85,0.625) (1.90,0.625) (1.94,0.625) (1.98,0.625) (2.21,0.625) (2.70,0.625)
(0.30,0.6) (0.38,0.6) (0.43,0.6) (0.55,0.6) (0.65,0.6) (0.86,0.6) (0.94,0.6) (1.07,0.6) (1.09,0.6) (1.24,0.6) (1.28,0.6) (1.32,0.6) (1.36,0.6) (1.40,0.6) (1.44,0.6) (1.48,0.6) (1.52,0.6) (1.65,0.6) (1.70,0.6) (1.75,0.6) (1.87,0.6) (1.91,0.6) (1.95,0.6) (1.99,0.6) (2.05,0.6) (2.08,0.6) (2.12,0.6) (2.17,0.6) (2.22,0.6) (2.32,0.6) (2.36,0.6) (2.41,0.6) (2.46,0.6) (2.50,0.6) (2.55,0.6) (2.68,0.6) (2.72,0.6) (2.77,0.6) (2.83,0.6) (2.93,0.6)
(1.05,0.571) (1.32,0.571) (1.37,0.571) (1.42,0.571) (1.46,0.571) (1.57,0.571) (1.62,0.571) (1.67,0.571) (1.74,0.571) (1.79,0.571) (1.84,0.571) (1.92,0.571) (1.97,0.571) (2.02,0.571) (2.07,0.571) (2.12,0.571) (2.32,0.571) (2.36,0.571) (2.40,0.571) (2.65,0.571) (2.94,0.571) (3.03,0.571)
(1.37,0.556) (1.62,0.556) (1.65,0.556) (1.55,0.545)
(0.24,0.5) (0.33,0.5) (0.36,0.5) (0.39,0.5) (0.43,0.5) (0.46,0.5) (0.50,0.5) (0.53,0.5) (0.56,0.5) (0.67,0.5) (0.89,0.5) (0.96,0.5) (1.00,0.5) (1.04,0.5) (1.08,0.5) (1.12,0.5) (1.16,0.5) (1.20,0.5) (1.24,0.5) (1.28,0.5) (1.32,0.5) (1.36,0.5) (1.40,0.5) (1.44,0.5) (1.46,0.5) (1.54,0.5) (1.57,0.5) (1.60,0.5) (1.63,0.5) (1.66,0.5) (1.69,0.5) (1.72,0.5) (1.75,0.5) (1.78,0.5) (1.81,0.5) (1.84,0.5) (1.89,0.5) (1.92,0.5) (1.95,0.5) (1.98,0.5) (2.01,0.5) (2.04,0.5) (2.07,0.5) (2.10,0.5) (2.12,0.5) (2.20,0.5) (2.23,0.5) (2.26,0.5) (2.29,0.5) (2.32,0.5) (2.35,0.5) (2.38,0.5) (2.41,0.5) (2.45,0.5) (2.50,0.5) (2.54,0.5) (2.58,0.5) (2.62,0.5) (2.66,0.5) (2.70,0.5) (2.74,0.5) (2.78,0.5) (2.82,0.5) (2.85,0.5) (2.94,0.5) (3.06,0.5)
(2.05,0.444)
(1.42,0.429) (1.45,0.429) (1.47,0.429) (1.54,0.429) (1.58,0.429) (1.62,0.429) (1.68,0.429) (1.79,0.429) (1.84,0.429) (2.22,0.429) (2.26,0.429) (2.30,0.429) (2.34,0.429) (2.38,0.429) (2.46,0.429) (2.55,0.429) (2.71,0.429)
(1.40,0.4) (1.60,0.4) (1.64,0.4) (1.68,0.4) (1.72,0.4) (1.77,0.4) (1.89,0.4) (2.00,0.4) (2.04,0.4) (2.07,0.4) (2.15,0.4) (2.19,0.4) (2.24,0.4) (2.28,0.4) (2.33,0.4) (2.37,0.4) (2.60,0.4) (2.70,0.4) (2.75,0.4) (2.94,0.4) (3.01,0.4) (3.13,0.4)
(2.04,0.375) (2.23,0.375) (2.29,0.375) (2.35,0.375) (3.03,0.375)
(1.28,0.333) (1.32,0.333) (1.36,0.333) (1.41,0.333) (1.58,0.333) (1.62,0.333) (1.66,0.333) (1.69,0.333) (1.80,0.333) (1.84,0.333) (1.88,0.333) (1.92,0.333) (1.96,0.333) (2.00,0.333) (2.04,0.333) (2.07,0.333) (2.14,0.333) (2.22,0.333) (2.26,0.333) (2.30,0.333) (2.34,0.333) (2.37,0.333) (2.60,0.333) (2.64,0.333) (2.68,0.333) (2.76,0.333) (2.94,0.333) (3.03,0.333) (3.16,0.333)
(1.56,0.308) (2.58,0.3) (2.99,0.3) (3.06,0.3) (2.38,0.286) (2.60,0.286) (1.59,0.273) (2.45,0.25) (3.13,0.25) (2.68,0.231)
};
\addplot[band] coordinates {(-0.265,0.910) (0.3,0.841) (0.9,0.769) (1.6,0.691) (2.2,0.639) (2.8,0.592) (3.39,0.544)
 (3.39,0.464) (2.8,0.532) (2.2,0.603) (1.6,0.669) (0.9,0.729) (0.3,0.775) (-0.265,0.818)} -- cycle;
\addplot[fitline] coordinates {(-0.265,0.864) (3.39,0.504)};
\end{axis}

% ---- sub-captions ----
\node[anchor=base, inner sep=0pt] at (114.75pt,-178pt) {\capfont (a) \textbf{Reddit:} SC w.r.t. Utt.1 ($\rho=-0.312$)};
\node[anchor=base, inner sep=0pt] at (354.75pt,-178pt) {\capfont (b) \textbf{Reddit:} SC w.r.t. Utt.2 ($\rho=-0.344$)};
\node[anchor=base, inner sep=0pt] at (116.7pt,-395.5pt) {\capfont (c) \textbf{Reddit:} REI ($\rho=-0.196$)};
\node[anchor=base west, inner sep=0pt] at (236.3pt,-385.5pt) {\capfont\hbox to 235pt{(d) \textbf{OpenSubtitles:} SC w.r.t. Utt.1 ($\rho =$}};
\node[anchor=base west, inner sep=0pt] at (236.3pt,-403pt) {\capfont $-0.330$)};
\node[anchor=base west, inner sep=0pt] at (-0.5pt,-610.5pt) {\capfont\hbox to 235.5pt{(e) \textbf{OpenSubtitles:} SC w.r.t. Utt.2 ($\rho =$}};
\node[anchor=base west, inner sep=0pt] at (-0.5pt,-628pt) {\capfont $-0.341$)};
\node[anchor=base, inner sep=0pt] at (354.2pt,-618pt) {\capfont (f) \textbf{OpenSubtitles:} REI ($\rho=-0.319$)};
\end{tikzpicture}
\end{document}
